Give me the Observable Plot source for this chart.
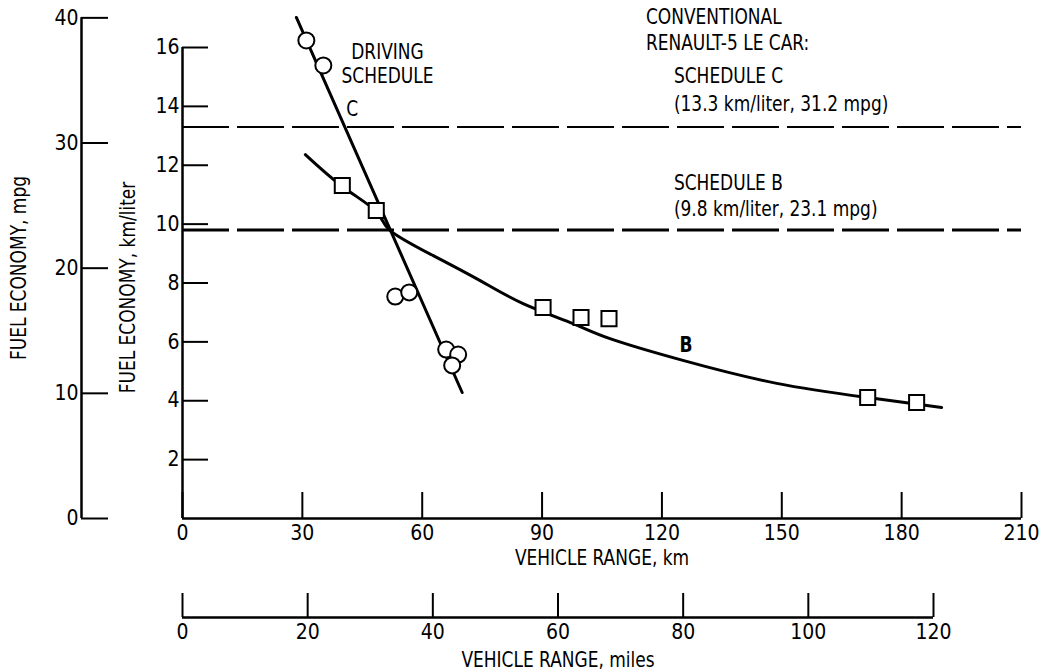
<!DOCTYPE html>
<html>
<head>
<meta charset="utf-8">
<script src="https://cdn.jsdelivr.net/npm/d3@7"></script>
<script src="https://cdn.jsdelivr.net/npm/@observablehq/plot@0.6"></script>
<style>
  body { margin: 0; background: #fff; }
  #chart { position: relative; width: 1039px; height: 672px; background: #fff; }
  #chart svg { display: block; }
</style>
</head>
<body>
<div id="chart"></div>
<script>
// Measured fuel economy vs. vehicle range, driving schedules C and B
const schedC_km   = [31, 35.25, 53.25, 56.75, 66, 69, 67.5];
const schedC_kmpl = [16.24, 15.39, 7.54, 7.68, 5.74, 5.57, 5.2];
const schedB_km   = [40, 48.5, 90.25, 99.75, 106.75, 171.5, 183.75];
const schedB_kmpl = [11.31, 10.46, 7.17, 6.83, 6.79, 4.11, 3.94];

// Faired curves through each schedule's data
const fitC_km   = [28.5, 70];
const fitC_kmpl = [17.02, 4.28];
const fitB_km   = [30.75, 40, 48.5, 52, 62.75, 74.5, 85.25, 97.75, 107, 125.25, 148.75, 171.5, 190];
const fitB_kmpl = [12.36, 11.28, 10.43, 9.78, 8.93, 8.08, 7.30, 6.62, 6.11, 5.37, 4.59, 4.11, 3.77];

// Conventional Renault-5 Le Car reference levels
const convSchedules = ["C", "B"];
const convKmpl = [13.3, 9.8];
const convMpg  = [31.2, 23.1];

// Axis ticks
const kmTicks    = [0, 30, 60, 90, 120, 150, 180, 210];
const kmplTicks  = [2, 4, 6, 8, 10, 12, 14, 16];
const mpgTicks   = [0, 10, 20, 30, 40];
const mileTicks  = [0, 20, 40, 60, 80, 100, 120];

const MPG_PER_KMPL = 2.352;

const schedC = schedC_km.map((x, i) => ({km: x, kmpl: schedC_kmpl[i]}));
const schedB = schedB_km.map((x, i) => ({km: x, kmpl: schedB_kmpl[i]}));
const fitC = fitC_km.map((x, i) => ({km: x, kmpl: fitC_kmpl[i]}));
const fitB = fitB_km.map((x, i) => ({km: x, kmpl: fitB_kmpl[i]}));
const conv = convSchedules.map((s, i) => ({schedule: s, kmpl: convKmpl[i], mpg: convMpg[i]}));
const convC = conv.filter(d => d.schedule === "C");
const convB = conv.filter(d => d.schedule === "B");

const FONT = "'Liberation Sans Narrow', 'DejaVu Sans Condensed', 'DejaVu Sans', sans-serif";
const FS = 21;
const MPG_AXIS_DX = -101;

const scheduleLabel = d => `SCHEDULE ${d.schedule}`;
const levelLabel = d => `(${d.kmpl} km/liter, ${d.mpg} mpg)`;

const main = Plot.plot({
  width: 1039,
  height: 580,
  marginLeft: 182,
  marginRight: 18,
  marginTop: 47,
  marginBottom: 62,
  style: {fontFamily: FONT, fontSize: FS + "px", background: "#fff", color: "#000", overflow: "visible"},
  x: {domain: [0, 210]},
  y: {domain: [0, 16]},
  marks: [
    // km/liter axis
    Plot.ruleX([0], {y1: 0, y2: 16, strokeWidth: 2.5}),
    Plot.axisY(kmplTicks, {tickSize: 26, dx: 26, strokeWidth: 2, tickFormat: () => "", label: null}),
    Plot.axisY(kmplTicks, {tickSize: 0, tickPadding: 3, fontSize: FS, label: null}),
    // mpg axis, same vertical scale converted from km/liter
    Plot.ruleX([0], {y1: 0, y2: 40 / MPG_PER_KMPL, dx: MPG_AXIS_DX, strokeWidth: 2.5}),
    Plot.axisY(mpgTicks.map(m => m / MPG_PER_KMPL), {tickSize: 27, dx: MPG_AXIS_DX + 27, strokeWidth: 2, tickFormat: () => "", label: null}),
    Plot.axisY(mpgTicks.map(m => m / MPG_PER_KMPL), {tickSize: 0, tickPadding: 3, dx: MPG_AXIS_DX, fontSize: FS,
      tickFormat: v => String(Math.round(v * MPG_PER_KMPL)), label: null}),
    // km axis
    Plot.ruleY([0], {x1: 0, x2: 210, strokeWidth: 2.5}),
    Plot.axisX(kmTicks, {anchor: "bottom", tickSize: 26, dy: -26, strokeWidth: 2, tickFormat: () => "", label: null}),
    Plot.axisX(kmTicks, {anchor: "bottom", tickSize: 0, tickPadding: 7, fontSize: FS, label: null}),
    // axis titles
    Plot.text(["VEHICLE RANGE, km"], {frameAnchor: "bottom", textAnchor: "middle", lineAnchor: "middle", dy: 40, fontSize: FS}),
    Plot.text(["FUEL ECONOMY, km/liter"], {frameAnchor: "left", textAnchor: "middle", lineAnchor: "middle", rotate: -90, dx: -54, dy: 4.5, fontSize: FS}),
    Plot.text(["FUEL ECONOMY, mpg"], {frameAnchor: "left", textAnchor: "middle", lineAnchor: "middle", rotate: -90, dx: -163, dy: -15, fontSize: FS}),
    // conventional car reference levels
    Plot.ruleY(convC, {y: "kmpl", x1: 0, x2: 210, strokeWidth: 2, strokeDasharray: "47,8"}),
    Plot.ruleY(convB, {y: "kmpl", x1: 0, x2: 210, strokeWidth: 3, strokeDasharray: "47,8"}),
    Plot.text(convC, {x: 116, y: "kmpl", dy: -110, text: () => "CONVENTIONAL", textAnchor: "start", fontSize: FS}),
    Plot.text(convC, {x: 116, y: "kmpl", dy: -84, text: () => "RENAULT-5 LE CAR:", textAnchor: "start", fontSize: FS}),
    Plot.text(convC, {x: 123, y: "kmpl", dy: -51, text: scheduleLabel, textAnchor: "start", fontSize: FS}),
    Plot.text(convC, {x: 123, y: "kmpl", dy: -23, text: levelLabel, textAnchor: "start", fontSize: FS}),
    Plot.text(convB, {x: 123, y: "kmpl", dy: -47, text: scheduleLabel, textAnchor: "start", fontSize: FS}),
    Plot.text(convB, {x: 123, y: "kmpl", dy: -21, text: levelLabel, textAnchor: "start", fontSize: FS}),
    // faired curves
    Plot.line(fitC, {x: "km", y: "kmpl", strokeWidth: 3}),
    Plot.line(fitB, {x: "km", y: "kmpl", curve: "natural", strokeWidth: 3}),
    // data points
    Plot.dot(schedC, {x: "km", y: "kmpl", r: 8, fill: "#fff", stroke: "#000", strokeWidth: 2}),
    Plot.dot(schedB, {x: "km", y: "kmpl", r: 8.5, symbol: "square", fill: "#fff", stroke: "#000", strokeWidth: 2}),
    // curve labels
    Plot.text(["C"], {x: 42.5, y: 13.9, fontSize: FS}),
    Plot.text(["B"], {x: 126, y: 5.88, fontSize: FS, fontWeight: "bold"}),
    Plot.text(["DRIVING"], {x: 51.3, y: 15.42, dy: -12, fontSize: FS}),
    Plot.text(["SCHEDULE"], {x: 51.3, y: 15.42, dy: 12, fontSize: FS})
  ]
});

const miles = Plot.plot({
  width: 1039,
  height: 92,
  marginLeft: 182,
  marginRight: 106,
  marginTop: 10,
  marginBottom: 55,
  style: {fontFamily: FONT, fontSize: FS + "px", background: "#fff", color: "#000", overflow: "visible"},
  x: {domain: [0, 120]},
  y: {domain: [0, 1], axis: null},
  marks: [
    Plot.ruleY([0], {x1: 0, x2: 120, strokeWidth: 2.5}),
    Plot.axisX(mileTicks, {anchor: "bottom", tickSize: 24, dy: -24, strokeWidth: 2, tickFormat: () => "", label: null}),
    Plot.axisX(mileTicks, {anchor: "bottom", tickSize: 0, tickPadding: 7, fontSize: FS, label: null}),
    Plot.text(["VEHICLE RANGE, miles"], {frameAnchor: "bottom", textAnchor: "middle", lineAnchor: "middle", dy: 43, fontSize: FS})
  ]
});

const chart = document.getElementById("chart");
chart.appendChild(main);
chart.appendChild(miles);

// Narrow the lettering of the annotation texts to a condensed drafting style
function condense(svg, factor) {
  d3.select(svg).selectAll('g[aria-label="text"] text').each(function() {
    const len = this.getComputedTextLength();
    if (len > 0) {
      this.setAttribute("textLength", (len * factor).toFixed(1));
      this.setAttribute("lengthAdjust", "spacingAndGlyphs");
    }
  });
}
condense(main, 0.9);
condense(miles, 0.9);
</script>
</body>
</html>
